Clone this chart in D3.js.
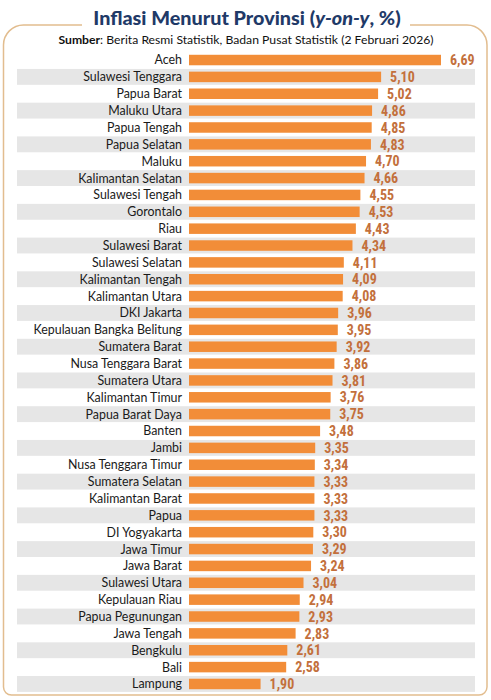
<!DOCTYPE html>
<html lang="id">
<head>
<meta charset="utf-8">
<script src="https://cdn.jsdelivr.net/npm/d3@7"></script>
<style>
  html, body { margin: 0; padding: 0; background: #fff; }
</style>
</head>
<body>
<script>
// data
const provinces = ["Aceh", "Sulawesi Tenggara", "Papua Barat", "Maluku Utara", "Papua Tengah",
  "Papua Selatan", "Maluku", "Kalimantan Selatan", "Sulawesi Tengah", "Gorontalo", "Riau",
  "Sulawesi Barat", "Sulawesi Selatan", "Kalimantan Tengah", "Kalimantan Utara", "DKI Jakarta",
  "Kepulauan Bangka Belitung", "Sumatera Barat", "Nusa Tenggara Barat", "Sumatera Utara",
  "Kalimantan Timur", "Papua Barat Daya", "Banten", "Jambi", "Nusa Tenggara Timur",
  "Sumatera Selatan", "Kalimantan Barat", "Papua", "DI Yogyakarta", "Jawa Timur", "Jawa Barat",
  "Sulawesi Utara", "Kepulauan Riau", "Papua Pegunungan", "Jawa Tengah", "Bengkulu", "Bali", "Lampung"];
const inflation = [6.69, 5.10, 5.02, 4.86, 4.85, 4.83, 4.70, 4.66, 4.55, 4.53, 4.43,
  4.34, 4.11, 4.09, 4.08, 3.96, 3.95, 3.92, 3.86, 3.81, 3.76, 3.75, 3.48, 3.35, 3.34,
  3.33, 3.33, 3.33, 3.30, 3.29, 3.24, 3.04, 2.94, 2.93, 2.83, 2.61, 2.58, 1.90];

const w = 491, h = 700;
const data = provinces.map((p, i) => ({ name: p, value: inflation[i], i: i }));

const svg = d3.select("body").append("svg")
  .attr("width", w)
  .attr("height", h);

// frame with a gap for the title
const fr = { x0: 3.5, y0: 25, x1: 487, y1: 695, r: 20 };
const framePath = d3.path();
framePath.moveTo(82, fr.y0);
framePath.lineTo(fr.x0 + fr.r, fr.y0);
framePath.arcTo(fr.x0, fr.y0, fr.x0, fr.y0 + fr.r, fr.r);
framePath.lineTo(fr.x0, fr.y1 - 8);
framePath.arcTo(fr.x0, fr.y1, fr.x0 + 8, fr.y1, 8);
framePath.lineTo(fr.x1 - 8, fr.y1);
framePath.arcTo(fr.x1, fr.y1, fr.x1, fr.y1 - 8, 8);
framePath.lineTo(fr.x1, fr.y0 + fr.r);
framePath.arcTo(fr.x1, fr.y0, fr.x1 - fr.r, fr.y0, fr.r);
framePath.lineTo(410, fr.y0);
svg.append("path")
  .attr("d", framePath.toString())
  .attr("fill", "none")
  .attr("stroke", "#e2bd8f")
  .attr("stroke-width", 1.5);

// title
const title = svg.append("text")
  .attr("x", 247)
  .attr("y", 25)
  .attr("text-anchor", "middle")
  .attr("font-family", "Lato, 'Open Sans', sans-serif")
  .attr("font-weight", "900")
  .attr("font-size", 19.8)
  .attr("fill", "#1f3a68");
title.append("tspan").text("Inflasi Menurut Provinsi (");
title.append("tspan").attr("font-style", "italic").text("y-on-y");
title.append("tspan").text(", %)");

const sub = svg.append("text")
  .attr("x", 246)
  .attr("y", 44)
  .attr("text-anchor", "middle")
  .attr("font-family", "Lato, 'Open Sans', sans-serif")
  .attr("font-size", 12.2)
  .attr("fill", "#111");
sub.append("tspan").attr("font-weight", "bold").text("Sumber");
sub.append("tspan").text(": Berita Resmi Statistik, Badan Pusat Statistik (2 Februari 2026)");

// scales
const y = d3.scaleBand()
  .domain(provinces)
  .range([51.6, 692.4])
  .paddingInner(0);

const x = d3.scaleLinear()
  .domain([0, 6.69])
  .range([189, 441]);

// alternating grey bands
svg.selectAll("rect.band")
  .data(data.filter(d => d.i % 2 === 1))
  .join("rect")
  .attr("class", "band")
  .attr("x", 17)
  .attr("y", d => y(d.name) + 0.5)
  .attr("width", 458)
  .attr("height", y.bandwidth() - 1)
  .attr("fill", "#e6e6e6");

// bars
svg.selectAll("rect.bar")
  .data(data)
  .join("rect")
  .attr("class", "bar")
  .attr("x", x(0))
  .attr("y", d => y(d.name) + (y.bandwidth() - 10.5) / 2)
  .attr("width", d => x(d.value) - x(0))
  .attr("height", 10.5)
  .attr("fill", "#f28d38");

// province labels
svg.selectAll("text.name")
  .data(data)
  .join("text")
  .attr("class", "name")
  .attr("x", 182)
  .attr("y", d => y(d.name) + y.bandwidth() / 2)
  .attr("dy", "0.36em")
  .attr("text-anchor", "end")
  .attr("font-family", "Lato, 'Open Sans', sans-serif")
  .attr("font-size", 12.4)
  .attr("fill", "#1a1a1a")
  .text(d => d.name);

// value labels
svg.selectAll("text.val")
  .data(data)
  .join("text")
  .attr("class", "val")
  .attr("x", d => x(d.value) + 9)
  .attr("y", d => y(d.name) + y.bandwidth() / 2)
  .attr("dy", "0.37em")
  .attr("font-family", "'Liberation Sans Narrow', 'Roboto Condensed', Roboto, sans-serif")
  .attr("font-weight", "bold")
  .attr("font-size", 14)
  .attr("fill", "#c3703c")
  .text(d => d3.format(".2f")(d.value).replace(".", ","));
</script>
</body>
</html>
